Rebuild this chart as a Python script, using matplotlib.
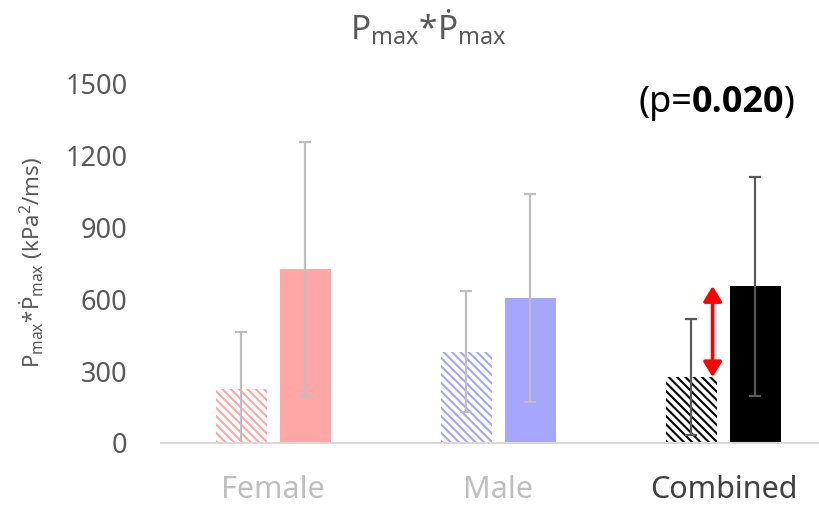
import matplotlib.pyplot as plt
import numpy as np
from matplotlib.offsetbox import TextArea, HPacker, AnnotationBbox

plt.rcParams['font.family'] = ['Noto Sans', 'DejaVu Sans']
plt.rcParams['mathtext.fontset'] = 'custom'
plt.rcParams['mathtext.rm'] = 'Noto Sans'
plt.rcParams['hatch.linewidth'] = 1.5

# Данные
groups = ['Female', 'Male', 'Combined']
pre_mean = [226, 382, 275]
pre_sd = [238, 252, 242]
post_mean = [726, 605, 655]
post_sd = [530, 435, 457]
yticks = [0, 300, 600, 900, 1200, 1500]

colors = ['#FFA6A6', '#A6A6FF', '#000000']
err_colors = ['#BFBFBF', '#BFBFBF', '#595959']
label_colors = ['#BFBFBF', '#BFBFBF', '#404040']

fig = plt.figure(figsize=(8.2, 5.08), dpi=100)
ax = fig.add_axes([0.196, 0.128, 0.804, 0.707])

x = np.arange(len(groups))
off = 0.142
w = 0.227
for i in range(len(groups)):
    ax.bar(x[i] - off, pre_mean[i], w, facecolor='white', edgecolor=colors[i],
           hatch='\\\\\\\\', linewidth=0)
    ax.bar(x[i] + off, post_mean[i], w, color=colors[i], linewidth=0)
    ax.errorbar(x[i] - off, pre_mean[i], yerr=pre_sd[i], fmt='none',
                ecolor=err_colors[i], elinewidth=1.6, capsize=4.5, capthick=1.6)
    ax.errorbar(x[i] + off, post_mean[i], yerr=post_sd[i], fmt='none',
                ecolor=err_colors[i], elinewidth=1.6, capsize=4.5, capthick=1.6)

# Красная стрелка различия
ax.annotate('', xy=(1.952, post_mean[2]), xytext=(1.952, pre_mean[2]),
            arrowprops=dict(arrowstyle='<|-|>,head_length=0.9,head_width=0.55',
                            color='red', lw=2.6, shrinkA=0, shrinkB=0))

# Подпись p-значения: "0.020" жирным
tp = dict(fontsize=26, color='black', family=['Noto Sans'])
tb = dict(fontsize=26, color='black', family=['Open Sans', 'DejaVu Sans'], fontweight='bold')
box = HPacker(children=[TextArea('(p=', textprops=tp), TextArea('0.020', textprops=tb),
                        TextArea(')', textprops=tp)], pad=0, sep=0, align='baseline')
ax.add_artist(AnnotationBbox(box, (1.97, 1421), frameon=False, box_alignment=(0.5, 0.5)))

ax.set_xlim(-0.5, 2.429)
ax.set_ylim(0, 1500)
ax.set_yticks(yticks)
ax.set_yticklabels([str(v) for v in yticks], fontsize=19.5, color='#595959')
ax.set_xticks(x)
ax.set_xticklabels(groups, fontsize=22)
for lbl, c in zip(ax.get_xticklabels(), label_colors):
    lbl.set_color(c)
ax.tick_params(axis='both', length=0)
ax.tick_params(axis='x', pad=23)
ax.tick_params(axis='y', pad=24)

for s in ['top', 'right', 'left']:
    ax.spines[s].set_visible(False)
ax.spines['bottom'].set_color('#D9D9D9')
ax.spines['bottom'].set_linewidth(1.5)

fig.text(0.039, 0.484,
         r'P$_{\mathregular{max}}$*Ṗ$_{\mathregular{max}}$ (kPa$^{\mathregular{2}}$/ms)',
         fontsize=16, color='#595959', rotation=90, ha='center', va='center')
fig.text(0.522, 0.945, r'P$_{\mathregular{max}}$*Ṗ$_{\mathregular{max}}$',
         fontsize=24, color='#595959', ha='center', va='center')

fig.savefig('out.png', dpi=100)
